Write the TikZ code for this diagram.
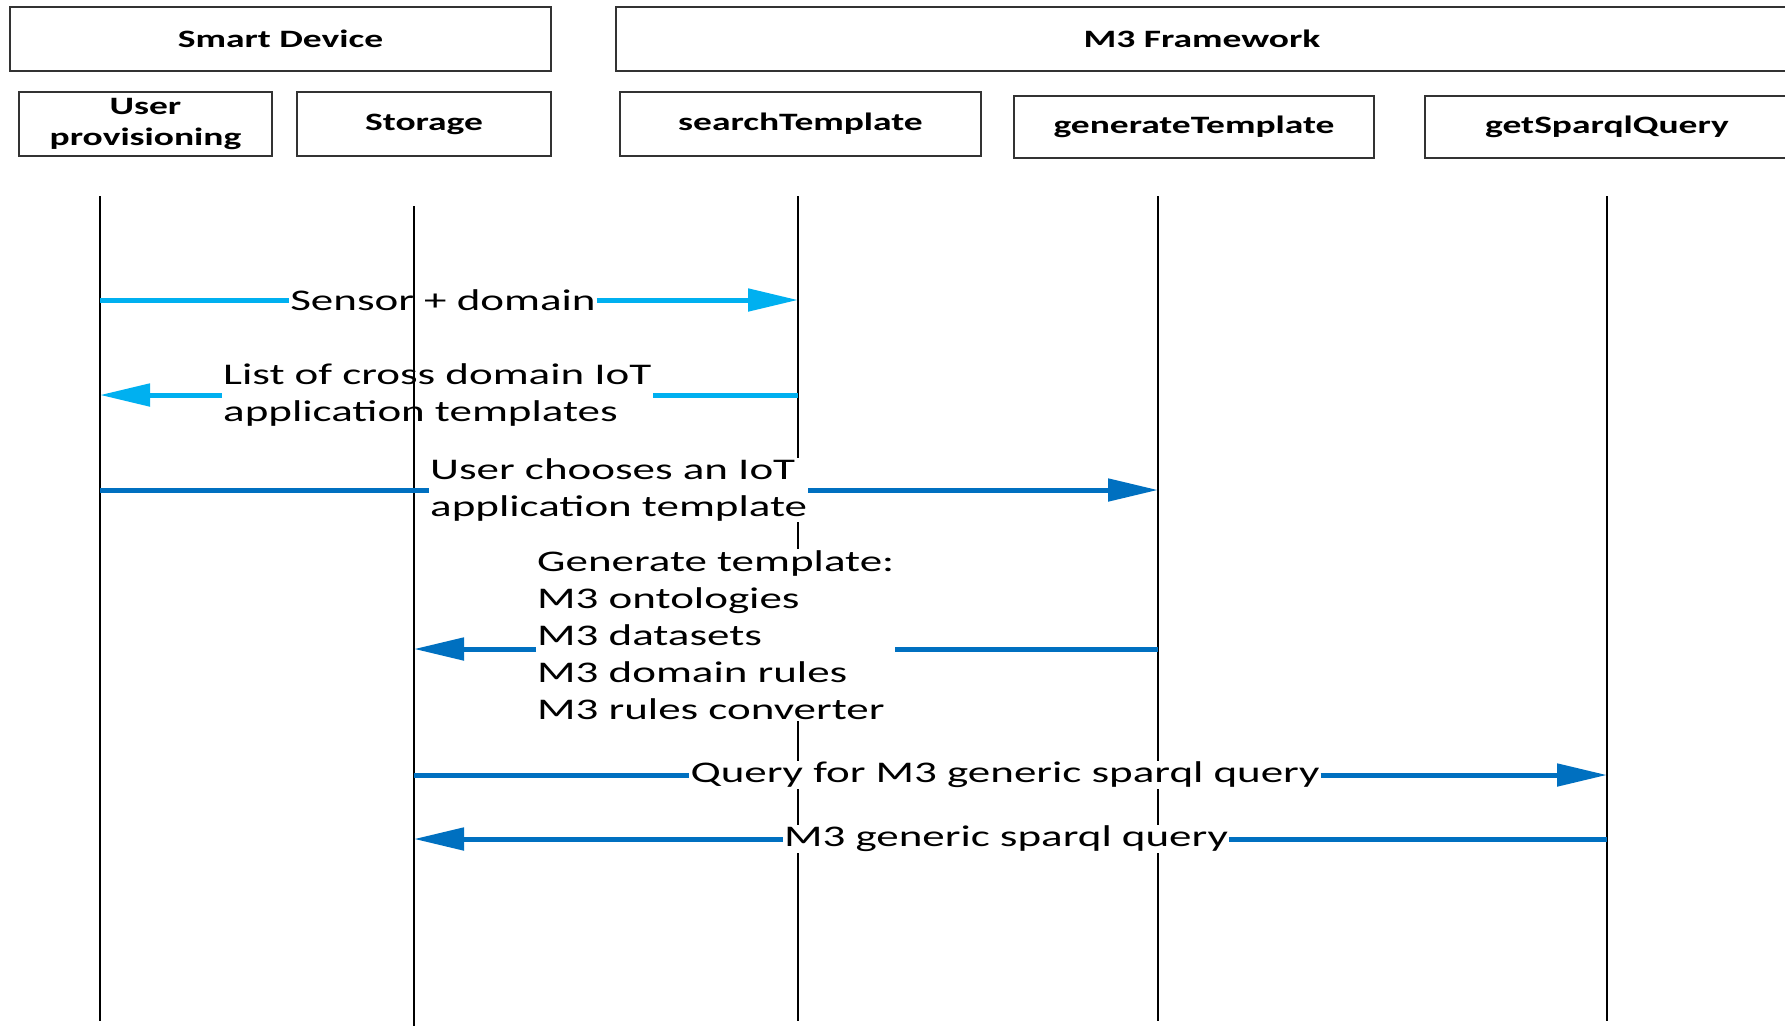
\documentclass[tikz,border=0pt]{standalone}
\usepackage{fontspec}
\setmainfont{Carlito}[FakeStretch=1.5]
\usetikzlibrary{arrows.meta}
\definecolor{lblue}{HTML}{00B0F0}
\definecolor{dblue}{HTML}{0070C0}
\begin{document}
\begin{tikzpicture}[x=1pt,y=-1pt,
  box/.style={draw=black!80, line width=2pt, inner sep=0pt, font=\fontsize{25}{31}\selectfont\bfseries, align=center},
  life/.style={line width=1.5pt, black},
  msg/.style={font=\fontsize{30}{37}\selectfont, align=left, inner sep=1pt},
  wmsg/.style={msg, fill=white},
  seg/.style={line width=5pt},
  arr/.style={line width=5pt, -{Triangle[length=50pt,width=22pt]}},
]
\useasboundingbox (0,0) rectangle (1785,1026);
\fill[white] (0,0) rectangle (1785,1026);

% group boxes
\node[box, minimum width=541pt, minimum height=64pt] (sd) at (280.5,39) {Smart Device};
\node[box, minimum width=1172pt, minimum height=64pt] (m3f) at (1202,39) {M3 Framework};

% participant boxes
\node[box, minimum width=253pt, minimum height=64pt] (up) at (145.5,124) {User\\provisioning};
\node[box, minimum width=254pt, minimum height=64pt] (st) at (424,124) {Storage};
\node[box, minimum width=361pt, minimum height=64pt] (se) at (800.5,124) {searchTemplate};
\node[box, minimum width=360pt, minimum height=62pt] (ge) at (1194,127) {generateTemplate};
\node[box, minimum width=364pt, minimum height=62pt] (gq) at (1607,127) {getSparqlQuery};

% lifelines
\coordinate (upT) at (100,196); \coordinate (upB) at (100,1021);
\coordinate (stT) at (414,206); \coordinate (stB) at (414,1026);
\coordinate (seT) at (798,196); \coordinate (seB) at (798,1021);
\coordinate (geT) at (1158,196); \coordinate (geB) at (1158,1021);
\coordinate (gqT) at (1607,196); \coordinate (gqB) at (1607,1021);
\draw[life] (upT) -- (upB);
\draw[life] (stT) -- (stB);
\draw[life] (seT) -- (seB);
\draw[life] (geT) -- (geB);
\draw[life] (gqT) -- (gqB);

% message 1
\node[msg] (m1) at (443,300) {Sensor + domain};
\draw[seg, lblue] (upT |- m1) -- (m1.west);
\draw[arr, lblue] (m1.east) -- (seT |- m1);

% message 2
\node[msg, anchor=west] (m2) at (222,395) {List of cross domain IoT\\application templates};
\draw[seg, lblue] (seT |- m2) -- (m2.east);
\draw[arr, lblue] (m2.west) -- (upT |- m2);

% message 3
\node[wmsg, anchor=west] (m3) at (429,490) {User chooses an IoT\\application template};
\draw[seg, dblue] (upT |- m3) -- (m3.west);
\draw[arr, dblue] (m3.east) -- (geT |- m3);

% message 4
\node[wmsg, anchor=west] (m4) at (536,635) {Generate template:\\M3 ontologies\\M3 datasets\\M3 domain rules\\M3 rules converter};
\coordinate (a4) at (0,649);
\draw[seg, dblue] (geT |- a4) -- (m4.east |- a4);
\draw[arr, dblue] (m4.west |- a4) -- (stT |- a4);

% message 5
\node[wmsg] (m5) at (1005,775) {Query for M3 generic sparql query};
\draw[seg, dblue] (stT |- m5) -- (m5.west);
\draw[arr, dblue] (m5.east) -- (gqT |- m5);

% message 6
\node[wmsg] (m6) at (1006,839) {M3 generic sparql query};
\draw[seg, dblue] (gqT |- m6) -- (m6.east);
\draw[arr, dblue] (m6.west) -- (stT |- m6);
\end{tikzpicture}
\end{document}
